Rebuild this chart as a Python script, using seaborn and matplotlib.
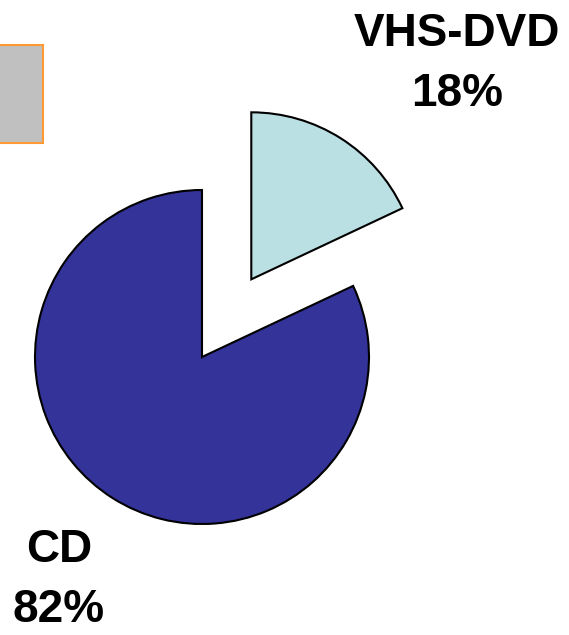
import matplotlib
matplotlib.use("Agg")
import matplotlib.pyplot as plt
import seaborn as sns
from matplotlib.patches import Rectangle

# Данные
labels = ["CD", "VHS-DVD"]
shares = [82, 18]
colors = ["#333399", "#BBE0E3"]

sns.set_theme(style="white")
plt.rcParams["font.family"] = ["Liberation Sans", "DejaVu Sans"]
plt.rcParams["text.color"] = "black"

fig = plt.figure(figsize=(5.69, 6.35), dpi=100)
ax = fig.add_axes([0, 0, 1, 1])

# Пирог (единицы осей = пиксели)
ax.pie(shares, colors=colors, startangle=90, counterclock=True,
       radius=167, center=(202, 278), explode=[0, 92],
       wedgeprops=dict(edgecolor="black", linewidth=1.5), frame=True)
ax.set_xlim(0, 569)
ax.set_ylim(0, 635)
ax.set_aspect("equal")
ax.axis("off")

# Подписи
ax.text(59, 55, f"{labels[0]}\n{shares[0]}%", ha="center", va="center",
        fontsize=33, fontweight="bold", linespacing=1.45, color="black")
ax.text(457, 571, f"{labels[1]}\n{shares[1]}%", ha="center", va="center",
        fontsize=33, fontweight="bold", linespacing=1.45, color="black")

# Серый прямоугольник (обрезанная легенда)
fig.patches.append(Rectangle((-0.02, 1 - 143 / 635), 43 / 569 + 0.02, 98 / 635,
                             transform=fig.transFigure, facecolor="#C0C0C0",
                             edgecolor="#FF9933", linewidth=1.5))

fig.savefig("out.png", dpi=100)
